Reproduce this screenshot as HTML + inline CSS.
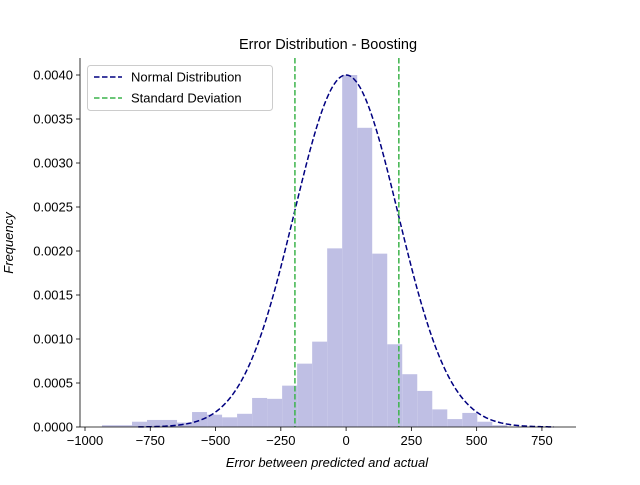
<!DOCTYPE html>
<html><head><meta charset="utf-8"><style>
body{margin:0;background:#fff;}
svg text{font-family:"Liberation Sans","DejaVu Sans",sans-serif;}
</style></head><body>
<svg id="chart" width="640" height="480" xmlns="http://www.w3.org/2000/svg">
<rect width="640" height="480" fill="#fff"/>
<text x="328" y="49" font-size="14.5" text-anchor="middle">Error Distribution - Boosting</text>
<g id="bars"></g>
<g id="curve"></g>
<g id="std"></g>
<g id="axes"></g>
<text x="327" y="467" font-size="13" font-style="italic" text-anchor="middle">Error between predicted and actual</text>
<text transform="translate(13,243) rotate(-90)" font-size="13" font-style="italic" text-anchor="middle">Frequency</text>
<g>
<rect x="87.5" y="65.5" width="185" height="45" rx="3" fill="#fff" fill-opacity="0.8" stroke="#ccc"/>
<line x1="94" y1="77" x2="122" y2="77" stroke="#000080" stroke-width="1.5" stroke-dasharray="5.5,2.5"/>
<text x="131" y="81.5" font-size="13">Normal Distribution</text>
<line x1="94" y1="98" x2="122" y2="98" stroke="#3cb44b" stroke-width="1.5" stroke-dasharray="5.5,2.5"/>
<text x="131" y="102.5" font-size="13">Standard Deviation</text>
</g>
</svg>
<script>
const binStart = -935;
const binWidth = 57.5;
const binValues = [0.00002,0.00002,0.00006,0.00008,0.00008,0.00005,0.00017,0.00014,0.00011,0.00015,0.00033,0.00032,0.00047,0.00072,0.00097,0.00203,0.0040,0.0034,0.00197,0.00094,0.0006,0.00041,0.0002,0.00009,0.00016,0.00006,0.00002];
const curveMean = 0;
const curveSigma = 199;
const curvePeak = 0.0040;
const stdLines = [-196, 202];
const xTicks = [-1000,-750,-500,-250,0,250,500,750];
const xTickLabels = ["\u22121000","\u2212750","\u2212500","\u2212250","0","250","500","750"];
const yTicks = [0,0.0005,0.001,0.0015,0.002,0.0025,0.003,0.0035,0.004];
const yTickLabels = ["0.0000","0.0005","0.0010","0.0015","0.0020","0.0025","0.0030","0.0035","0.0040"];

const NS="http://www.w3.org/2000/svg";
const L=80,R=576,T=58,B=427;
const sx=v=>346.1+v*0.2611;
const sy=v=>B-v*88000;
function mk(tag,attrs,parent){const e=document.createElementNS(NS,tag);for(const k in attrs)e.setAttribute(k,attrs[k]);parent.appendChild(e);return e;}
const bars=document.getElementById('bars');
binValues.forEach((v,i)=>{
  const x0=sx(binStart+i*binWidth),x1=sx(binStart+(i+1)*binWidth);
  const r=mk('rect',{x:x0,y:sy(v),width:x1-x0,height:B-sy(v),fill:'#bfbfe4'},bars);
  
  
});
let pts=[];
for(let i=0;i<=300;i++){const x=curveMean-4*curveSigma+i*8*curveSigma/300;const y=curvePeak*Math.exp(-0.5*Math.pow((x-curveMean)/curveSigma,2));pts.push(sx(x).toFixed(2)+','+sy(y).toFixed(2));}
const pl=mk('polyline',{points:pts.join(' '),fill:'none',stroke:'#000080','stroke-width':1.5,'stroke-dasharray':'5.5,2.5'},document.getElementById('curve'));


stdLines.forEach(v=>{
  const l=mk('line',{x1:sx(v),x2:sx(v),y1:T,y2:B,stroke:'#3cb44b','stroke-width':1.5,'stroke-dasharray':'5.5,2.5'},document.getElementById('std'));
  
  
});
const ax=document.getElementById('axes');
mk('line',{x1:L,x2:L,y1:T,y2:B,stroke:'#000','stroke-width':0.8},ax);
mk('line',{x1:L,x2:R,y1:B,y2:B,stroke:'#000','stroke-width':0.8},ax);
xTicks.forEach((v,i)=>{
  mk('line',{x1:sx(v),x2:sx(v),y1:B,y2:B+4,stroke:'#000','stroke-width':0.8},ax);
  const t=mk('text',{x:sx(v),y:B+18,'font-size':13,'text-anchor':'middle'},ax);t.textContent=xTickLabels[i];
  
  
});
yTicks.forEach((v,i)=>{
  mk('line',{x1:L-4,x2:L,y1:sy(v),y2:sy(v),stroke:'#000','stroke-width':0.8},ax);
  const t=mk('text',{x:L-7,y:sy(v)+4.5,'font-size':13,'text-anchor':'end'},ax);t.textContent=yTickLabels[i];
  
  
});
</script>
</body></html>
